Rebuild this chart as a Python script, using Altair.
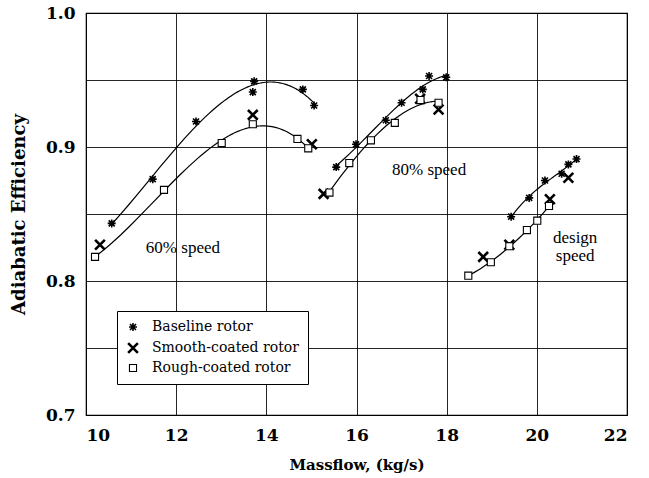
import altair as alt
import pandas as pd

# ---- data ----
speeds = ["60% speed", "80% speed", "design speed"]
rotors = ["Baseline rotor", "Smooth-coated rotor", "Rough-coated rotor"]

# 60% speed
b60_x = [10.57, 11.48, 12.44, 13.70, 13.73, 14.81, 15.06]
b60_y = [0.843, 0.876, 0.919, 0.941, 0.949, 0.943, 0.931]
s60_x = [10.31, 13.70, 15.01]
s60_y = [0.827, 0.924, 0.902]
r60_x = [10.20, 11.73, 13.01, 13.70, 14.69, 14.93]
r60_y = [0.818, 0.868, 0.903, 0.917, 0.906, 0.899]
# 80% speed
b80_x = [15.55, 15.99, 16.65, 17.00, 17.47, 17.61, 17.99]
b80_y = [0.885, 0.902, 0.920, 0.933, 0.943, 0.953, 0.952]
s80_x = [15.27, 17.41, 17.82]
s80_y = [0.865, 0.936, 0.928]
r80_x = [15.40, 15.84, 16.32, 16.85, 17.42, 17.82]
r80_y = [0.866, 0.888, 0.905, 0.918, 0.935, 0.933]
# design speed
bd_x = [19.43, 19.83, 20.18, 20.55, 20.70, 20.88]
bd_y = [0.848, 0.862, 0.875, 0.880, 0.887, 0.891]
sd_x = [18.81, 19.39, 20.29, 20.70]
sd_y = [0.818, 0.827, 0.861, 0.877]
rd_x = [18.48, 18.98, 19.39, 19.78, 20.01, 20.27]
rd_y = [0.804, 0.814, 0.826, 0.838, 0.845, 0.856]

# annotation labels
ann_text = ["60% speed", "80% speed", "design", "speed"]
ann_x = [12.15, 17.61, 20.85, 20.85]
ann_y = [0.8246, 0.883, 0.832, 0.8187]

x_ticks = [10, 12, 14, 16, 18, 20, 22]
y_grid = [0.7, 0.75, 0.8, 0.85, 0.9, 0.95, 1.0]

series = [
    (speeds[0], rotors[0], b60_x, b60_y), (speeds[0], rotors[1], s60_x, s60_y), (speeds[0], rotors[2], r60_x, r60_y),
    (speeds[1], rotors[0], b80_x, b80_y), (speeds[1], rotors[1], s80_x, s80_y), (speeds[1], rotors[2], r80_x, r80_y),
    (speeds[2], rotors[0], bd_x, bd_y), (speeds[2], rotors[1], sd_x, sd_y), (speeds[2], rotors[2], rd_x, rd_y),
]
rows = []
for sp, ro, xs, ys in series:
    for a, b in zip(xs, ys):
        rows.append({"speed": sp, "rotor": ro, "curve": sp + "|" + ro, "x": a, "y": b})
df = pd.DataFrame(rows)
ann = pd.DataFrame({"text": ann_text, "x": ann_x, "y": ann_y})

SERIF = "DejaVu Serif"
xscale = alt.Scale(domain=[10, 22], nice=False, zero=False)
yscale = alt.Scale(domain=[0.7, 1.0], nice=False, zero=False)

xenc = alt.X("x:Q", scale=xscale,
             axis=alt.Axis(values=x_ticks, title="Massflow, (kg/s)", grid=True, ticks=False,
                           domain=False, labelPadding=12, titlePadding=14, format="d",
                           labelFontSize=17, titleFontSize=15))
yenc = alt.Y("y:Q", scale=yscale,
             axis=alt.Axis(values=y_grid, title="Adiabatic Efficiency", grid=True, ticks=False,
                           domain=False, labelPadding=11, titlePadding=17,
                           labelFontSize=17, titleFontSize=18,
                           labelExpr="(round(datum.value*100) % 10 == 0) ? format(datum.value, '.1f') : ''"))

lines = alt.Chart(df).transform_filter(
    alt.datum.rotor != rotors[1]
).transform_regression(
    "x", "y", method="poly", order=3, groupby=["curve"]
).mark_line(color="black", strokeWidth=1.2).encode(
    x=alt.X("x:Q", scale=xscale), y=alt.Y("y:Q", scale=yscale), detail="curve:N"
)

ASTER = "M-1,0L1,0M0,-1L0,1M-0.75,-0.75L0.75,0.75M-0.75,0.75L0.75,-0.75"
XMARK = "M-1,-1L1,1M-1,1L1,-1"

points = alt.Chart(df).mark_point(stroke="black", fill="white", fillOpacity=1, opacity=1).encode(
    x=xenc, y=yenc,
    shape=alt.Shape("rotor:N", scale=alt.Scale(type="ordinal", domain=rotors, range=[ASTER, XMARK, "square"]),
                    legend=alt.Legend(title=None)),
    size=alt.Size("rotor:N", scale=alt.Scale(type="ordinal", domain=rotors, range=[64, 95, 50]),
                  legend=alt.Legend(title=None)),
    strokeWidth=alt.StrokeWidth("rotor:N", scale=alt.Scale(type="ordinal", domain=rotors, range=[1.6, 2.6, 1.1]),
                                legend=alt.Legend(title=None)),
)

texts = alt.Chart(ann).mark_text(font="Liberation Serif", fontSize=17, color="black").encode(
    x=alt.X("x:Q", scale=xscale), y=alt.Y("y:Q", scale=yscale), text="text:N"
)

chart = alt.layer(lines, points, texts).properties(
    width=541, height=402,
    padding={"left": 86, "top": 13, "right": 22, "bottom": 63},
    autosize=alt.AutoSizeParams(type="none"),
).configure_view(
    stroke="black", strokeWidth=1.2
).configure_axis(
    gridColor="black", gridOpacity=0.85, gridWidth=1,
    labelFont=SERIF, labelFontWeight="bold", labelColor="black",
    titleFont=SERIF, titleFontWeight="bold", titleColor="black",
).configure_legend(
    orient="none", legendX=31, legendY=298,
    strokeColor="black", fillColor="white", padding=9, rowPadding=2,
    labelFont=SERIF, labelFontSize=14, labelColor="black", labelOffset=12,
)

chart.save("out.html", embed_options={"renderer": "svg", "actions": False})
